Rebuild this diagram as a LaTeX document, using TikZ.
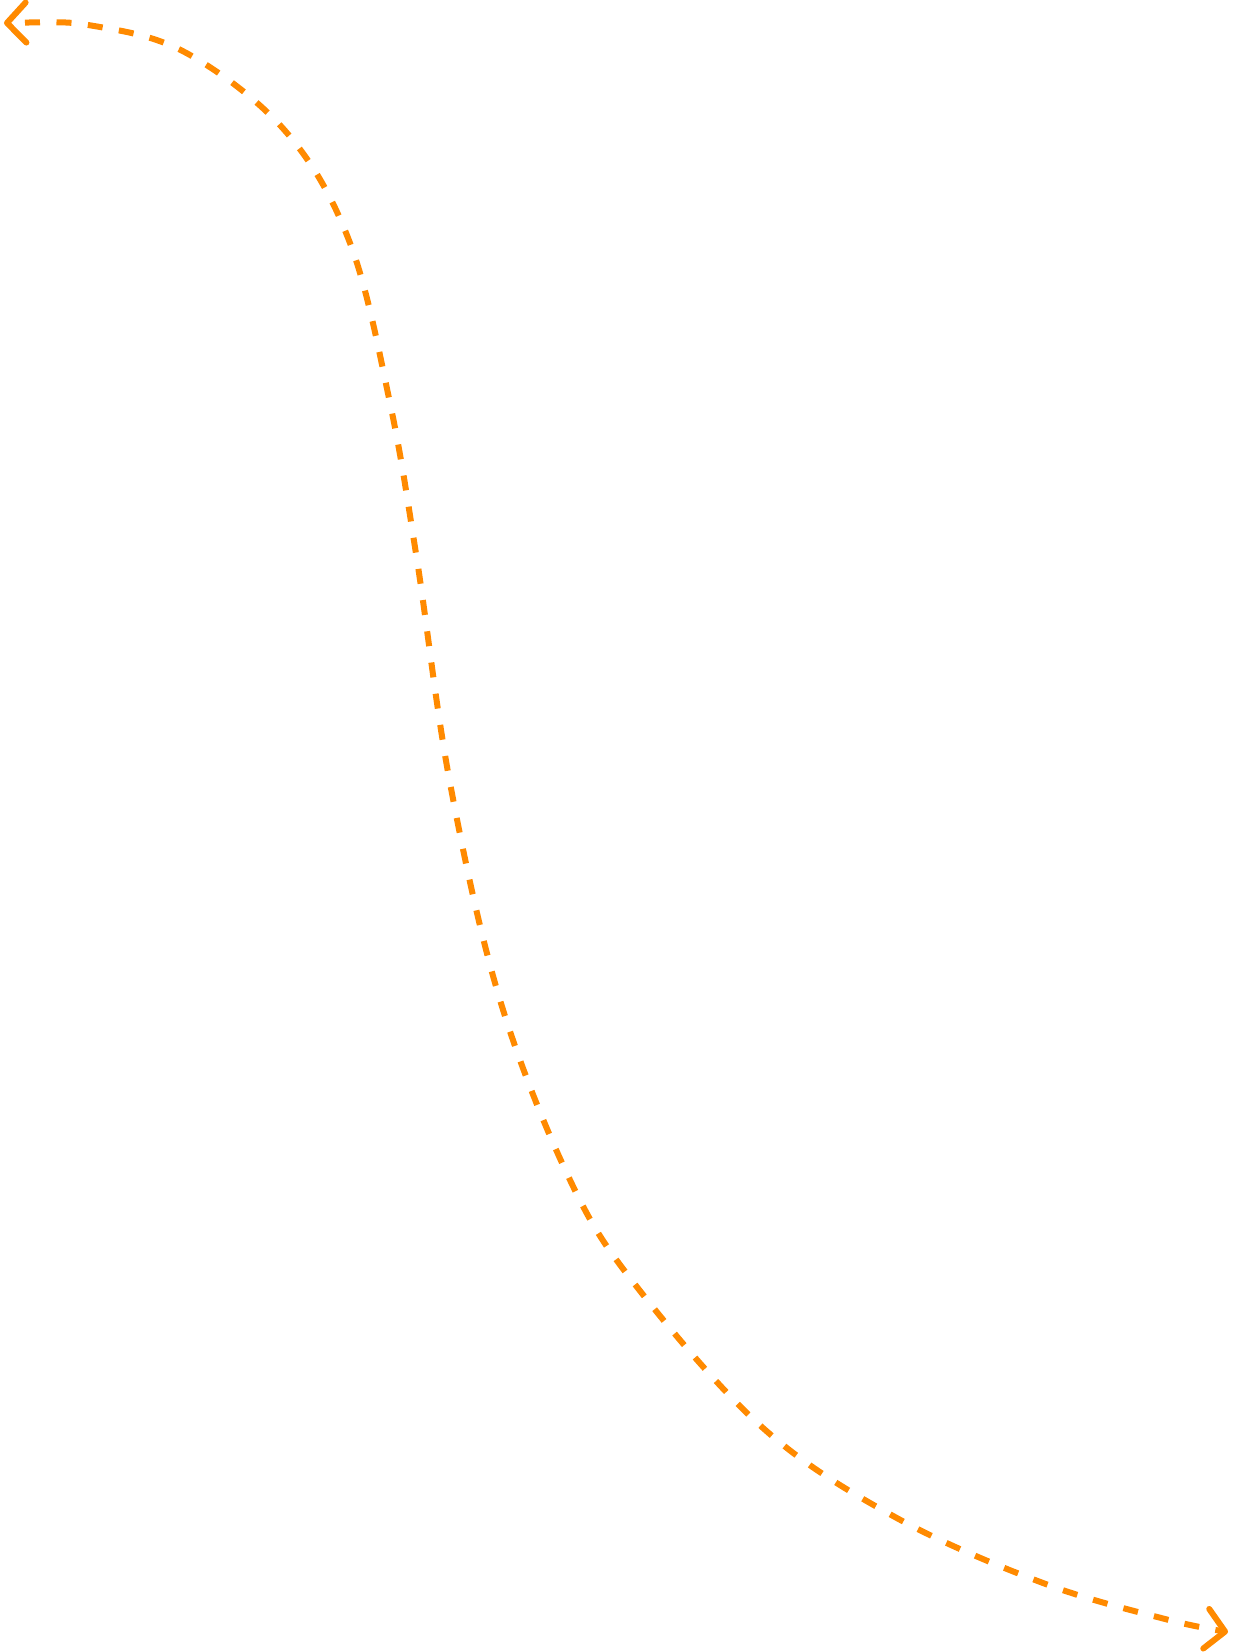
\documentclass[tikz,border=0pt]{standalone}
\usepackage{tikz}
\usetikzlibrary{arrows.meta}

\definecolor{trailorange}{RGB}{255,138,0}

\begin{document}
\begin{tikzpicture}[
    x=1pt, y=-1pt,
    >={Straight Barb[length=19pt, width=40pt, line cap=round, line join=round]},
    trail/.style={<->, draw=trailorange, line width=6pt,
                  dash pattern=on 15pt off 16.5pt, dash phase=16.5pt}
  ]
    \useasboundingbox (0,0) rectangle (1232,1652);

    %--- ends of the trail ---
    \coordinate (start) at (4,23);
    \coordinate (stop)  at (1228,1632);

    \draw[trail] plot[smooth, tension=0.6] coordinates {
        (start) (100,27) (190,55) (287,133) (350,243) (390,403) (417,560)
        (450,783) (500,1000) (570,1180) (637,1287) (763,1428) (895,1517)
        (1043,1583) (1165,1619) (stop)};
  \end{tikzpicture}
\end{document}
